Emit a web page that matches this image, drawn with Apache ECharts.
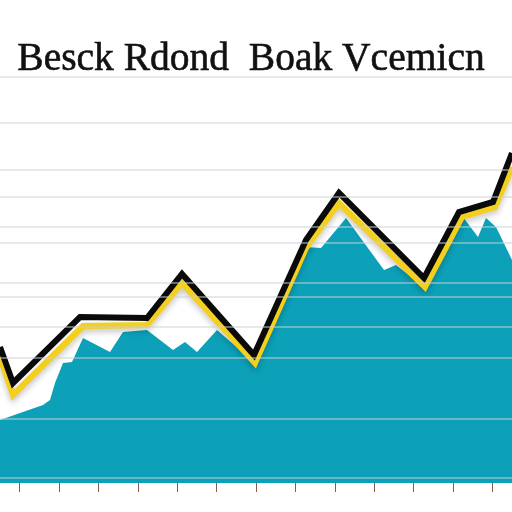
<!DOCTYPE html>
<html>
<head>
<meta charset="utf-8">
<script src="https://cdn.jsdelivr.net/npm/echarts@6/dist/echarts.min.js"></script>
<style>
  html, body { margin: 0; padding: 0; background: #ffffff; }
  #chart { width: 512px; height: 512px; }
</style>
</head>
<body>
<div id="chart"></div>
<script>
// Chart title
const titleText = 'Besck Rdond  Boak Vcemicn';

// Main trend line (x position, value)
const trendX = [0, 13, 80, 147, 182, 254, 306, 339, 424, 459, 493, 512];
const trendY = [165, 129, 195, 194, 238, 157, 272, 319, 234, 300, 310, 359];

// Highlight line running just under the trend
const highlightX = [0, 13, 83, 147, 182, 255, 306, 339, 425, 462, 495, 512];
const highlightY = [155, 117, 186, 187, 229, 149, 264, 309, 225, 295, 305, 345];

// Volume ridge (filled area)
const ridgeX = [0, 43, 50, 55, 63, 72, 83, 110, 123, 147, 173, 185, 197, 217, 255, 306, 321, 346, 384, 396, 424, 463, 478, 486, 496, 512];
const ridgeY = [92, 107, 112, 129, 149, 150, 174, 160, 180, 182, 162, 170, 160, 182, 149, 265, 264, 294, 242, 247, 225, 295, 275, 294, 285, 252];
const ridgeBase = 29;

// Horizontal guide rows
const gridRows = [435, 389, 342, 315, 285, 269, 229, 215, 185, 154, 93, 34];

// Period labels along the bottom axis
const periods = ['', '', '', '', '', '', '', '', '', '', '', '', ''];

const zip = (xs, ys) => xs.map((x, i) => [x, ys[i]]);

const chart = echarts.init(document.getElementById('chart'), null, { renderer: 'canvas' });
chart.setOption({
  backgroundColor: '#ffffff',
  animation: false,
  title: {
    text: titleText,
    left: 246,
    top: 35,
    textAlign: 'center',
    textStyle: {
      fontFamily: 'Liberation Serif',
      fontWeight: 'normal',
      fontSize: 39.5,
      color: '#111111',
      textBorderColor: '#111111',
      textBorderWidth: 0.6
    }
  },
  grid: { left: 0, right: 0, top: 0, bottom: 0 },
  xAxis: [
    {
      type: 'value', min: 0, max: 512,
      axisLine: { show: false }, axisTick: { show: false },
      axisLabel: { show: false }, splitLine: { show: false }
    },
    {
      type: 'category', data: periods, position: 'bottom', offset: -29,
      boundaryGap: true,
      axisLine: { show: false },
      axisTick: { show: true, alignWithLabel: true, inside: false, length: 9,
                  lineStyle: { color: '#8a5a4a', width: 1 } },
      axisLabel: { show: false },
      splitLine: { show: false }
    }
  ],
  yAxis: {
    type: 'value', min: 0, max: 512,
    axisLine: { show: false }, axisTick: { show: false },
    axisLabel: { show: false }, splitLine: { show: false }
  },
  series: [
    {
      type: 'line',
      data: zip(ridgeX, ridgeY),
      symbol: 'none',
      lineStyle: { width: 0 },
      areaStyle: { color: '#0ca1b9', opacity: 1, origin: ridgeBase },
      z: 1
    },
    {
      type: 'line',
      data: [],
      z: 2,
      markLine: {
        silent: true,
        symbol: 'none',
        label: { show: false },
        lineStyle: { type: 'solid', color: 'rgba(205,210,210,0.65)', width: 1.5 },
        data: gridRows.map(v => ({ yAxis: v }))
      }
    },
    {
      type: 'line',
      data: zip(highlightX, highlightY),
      symbol: 'none',
      lineStyle: {
        color: '#f4cf1c', width: 6, join: 'miter',
        shadowColor: 'rgba(0,0,0,0.25)', shadowBlur: 6, shadowOffsetY: 3
      },
      z: 3
    },
    {
      type: 'line',
      data: zip(trendX, trendY),
      symbol: 'none',
      lineStyle: { color: '#0a0a0a', width: 6, join: 'miter' },
      z: 4
    }
  ]
});
</script>
</body>
</html>
